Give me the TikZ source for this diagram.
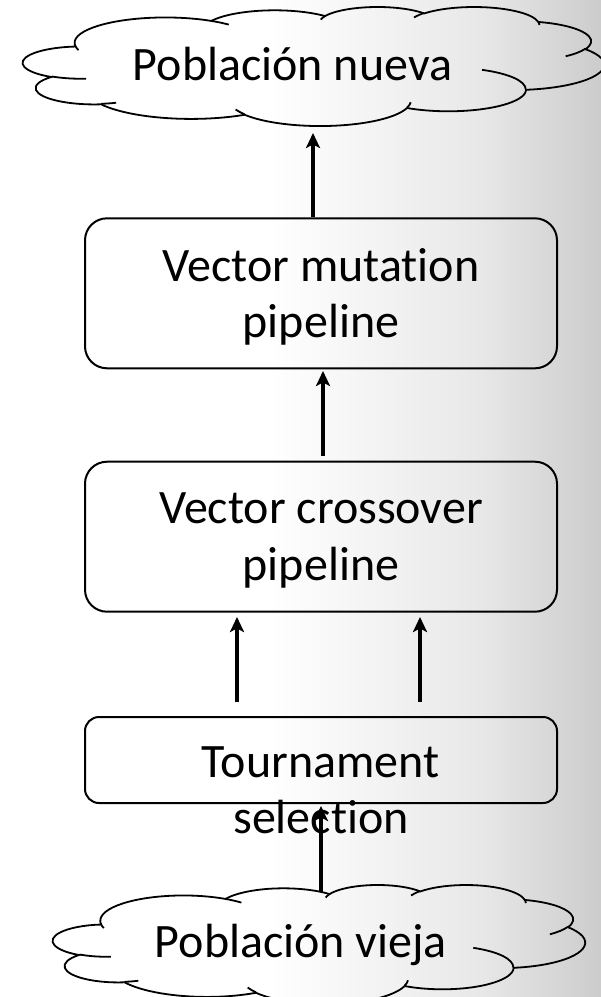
\documentclass[tikz,border=0pt]{standalone}
\usepackage{fontspec}
\setmainfont{Carlito}[Ligatures=NoCommon]
\usetikzlibrary{arrows.meta}

% OOXML arcTo (visual angles) -> TikZ parametric arc
\newcommand\oocalc[4]{%
  \pgfmathsetmacro\ootsA{atan2((#1)*sin(#3),(#2)*cos(#3))}%
  \pgfmathsetmacro\ooteA{atan2((#1)*sin((#3)+(#4)),(#2)*cos((#3)+(#4)))}%
  \pgfmathsetmacro\oodA{\ooteA-\ootsA}%
  \pgfmathsetmacro\oodA{\oodA-360*round((\oodA-(#4))/360)}%
  \xdef\oots{\ootsA}\xdef\ood{\oodA}%
}
\newcommand\ooarc[4]{\pgfextra{\oocalc{#1}{#2}{#3}{#4}} arc[start angle=\oots, delta angle=\ood, x radius=#1, y radius=#2]}

\newcommand\oocloud[4]{%
  \begin{scope}[shift={(#1,#2)}, xscale=#3, yscale=#4]
    \draw[cloudline] (39,143.7)
      \ooarc{67.53}{91.90}{-190.4875}{123.7805}
      \ooarc{53.33}{72.67}{-144.1024}{89.9452}
      \ooarc{43.65}{59.45}{-145.8079}{99.7230}
      \ooarc{48.57}{65.95}{-130.9861}{117.2417}
      \ooarc{53.33}{72.73}{-78.7089}{109.0269}
      \ooarc{67.75}{92.20}{-46.2673}{130.2690}
      \ooarc{57.85}{78.67}{0.6250}{114.0333}
      \ooarc{67.52}{92.15}{22.4516}{115.1726}
      \ooarc{77.20}{105.43}{66.2426}{75.7110}
      \ooarc{43.60}{59.18}{-274.9421}{146.7356}
      \ooarc{43.45}{59.45}{-246.8285}{152.5189}
      -- cycle;
    \draw[cloudline]
      (46.93,261.77) \ooarc{43.45}{59.45}{86.742}{26.4295}
      (69.28,348.99) \ooarc{43.60}{59.18}{73.6105}{11.4475}
      (164.78,390.90) \ooarc{67.52}{92.15}{137.6242}{14.0811}
      (288.27,347.51) \ooarc{67.52}{92.15}{6.4533}{15.9984}
      (341.29,229.54) \ooarc{57.85}{78.67}{-70.2924}{70.9174}
      (417.98,153.54) \ooarc{53.33}{72.73}{30.3180}{27.7515}
      (383.24,54.26) \ooarc{48.57}{65.95}{-13.7443}{14.8589}
      (290.78,39.52) \ooarc{48.57}{65.95}{-149.1815}{18.1954}
      (221.41,47.20) \ooarc{43.65}{59.45}{-163.4943}{17.6864}
      (140.00,51.92) \ooarc{67.53}{91.90}{-66.7070}{12.3194}
      (41.27,157.89) \ooarc{67.53}{91.90}{157.6544}{11.8582};
  \end{scope}%
}

\tikzset{
  cloudline/.style={draw=black, line width=1.8pt},
  box/.style={draw=black, line width=2pt, rounded corners=22pt, minimum width=472pt, minimum height=150pt, inner sep=0pt},
  smallbox/.style={box, rounded corners=14pt, minimum height=86pt},
  lbl/.style={font=\fontsize{48}{56}\selectfont, inner sep=0pt, anchor=base, text=black},
  arr/.style={draw=black, line width=3.2pt, -{Stealth[length=15pt, width=14pt, inset=3.5pt]}},
}

\begin{document}
\begin{tikzpicture}[x=1pt, y=-1pt]
  \useasboundingbox (0,0) rectangle (601,997);
  % background texture approximation
  \fill[white] (0,0) rectangle (270,997);
  \shade[left color=white, right color=black!9] (269,0) rectangle (480,997);
  \shade[left color=black!9, right color=black!20] (479,0) rectangle (601,997);

  % clouds
  \oocloud{23}{6.6}{1.3449}{0.27546}
  \oocloud{53}{884.6}{1.23148}{0.27546}
  \node[lbl] (newpop) at (292.5,80) {Población nueva};
  \node[lbl] (oldpop) at (301,957) {Población vieja};
  \coordinate (newbot) at (313,133);
  \coordinate (oldtop) at (321,892);

  % boxes
  \node[box] (mut) at (321,293.3) {};
  \node[box] (cross) at (321,536.7) {};
  \node[smallbox] (tour) at (321,760) {};

  \node[lbl] (mut1) at (321,281) {Vector mutation};
  \node[lbl] (mut2) at (321,337) {pipeline};
  \node[lbl] (cro1) at (321,523) {Vector crossover};
  \node[lbl] (cro2) at (321,580) {pipeline};
  \node[lbl] (tou1) at (320.5,777) {Tournament};
  \node[lbl] (tou2) at (321,833) {selection};

  % connectors
  \coordinate (a2) at (323,371);
  \coordinate (a3) at (237,617);
  \coordinate (a4) at (420,617);
  \draw[arr] (mut.north -| newbot) -- (newbot);
  \draw[arr] ([yshift=5pt]cross.north -| a2) -- (a2);
  \draw[arr] ([yshift=14pt]tour.north -| a3) -- (a3);
  \draw[arr] ([yshift=14pt]tour.north -| a4) -- (a4);
  \draw[arr] (oldtop) -- ([yshift=-2pt]tour.south -| oldtop);
\end{tikzpicture}
\end{document}
